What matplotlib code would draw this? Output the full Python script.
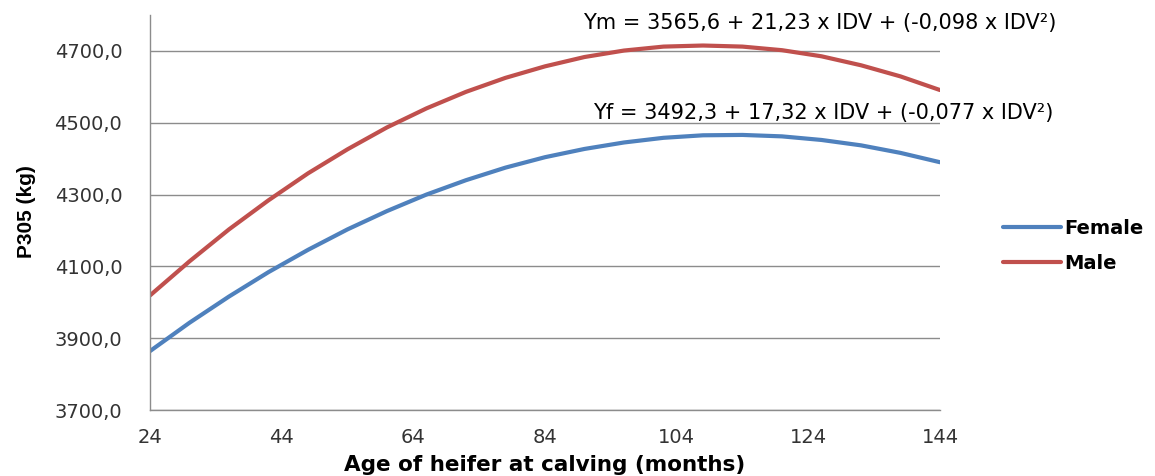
import matplotlib.pyplot as plt

# Age of heifer at calving (months)
age = [24, 30, 36, 42, 48, 54, 60, 66, 72, 78, 84, 90, 96, 102, 108, 114, 120, 126, 132, 138, 144]

# P305 (kg)
female = [3864, 3943, 4016, 4084, 4146, 4203, 4254, 4300, 4340, 4375, 4404,
          4427, 4445, 4458, 4465, 4466, 4462, 4452, 4437, 4416, 4390]
male = [4019, 4114, 4203, 4284, 4359, 4426, 4487, 4540, 4586, 4625, 4657,
        4683, 4701, 4712, 4715, 4712, 4702, 4685, 4660, 4629, 4591]

x_ticks = [24, 44, 64, 84, 104, 124, 144]
y_ticks = [3700, 3900, 4100, 4300, 4500, 4700]

eq_male = "Ym = 3565,6 + 21,23 x IDV + (-0,098 x IDV²)"
eq_female = "Yf = 3492,3 + 17,32 x IDV + (-0,077 x IDV²)"

blue = "#4F81BD"
red = "#C0504D"

fig = plt.figure(figsize=(11.55, 4.76), dpi=100)
ax = fig.add_axes([150 / 1155, 66 / 476, 790 / 1155, 395 / 476])

ax.plot(age, female, color=blue, linewidth=3, label="Female", solid_capstyle="round")
ax.plot(age, male, color=red, linewidth=3, label="Male", solid_capstyle="round")

ax.set_xlim(24, 144)
ax.set_ylim(3700, 4800)
ax.set_xticks(x_ticks)
ax.set_yticks(y_ticks)
ax.set_yticklabels([f"{v:.1f}".replace(".", ",") for v in y_ticks])
ax.tick_params(axis="both", length=0, labelsize=14, colors="#333333")
ax.tick_params(axis="x", pad=13)
ax.tick_params(axis="y", pad=20)

ax.grid(axis="y", color="#8c8c8c", linewidth=1)
ax.set_axisbelow(True)
for side in ["top", "right"]:
    ax.spines[side].set_visible(False)
for side in ["left", "bottom"]:
    ax.spines[side].set_color("#8c8c8c")
    ax.spines[side].set_linewidth(1)

fig.text(545 / 1155, 1 - 465 / 476, "Age of heifer at calving (months)",
         ha="center", va="center", fontsize=15.5, fontweight="bold")
fig.text(27 / 1155, 1 - 212 / 476, "P305 (kg)", rotation=90,
         ha="center", va="center", fontsize=15, fontweight="bold",
         family="Liberation Sans")

fig.text(820 / 1155, 1 - 23 / 476, eq_male, ha="center", va="center", fontsize=15)
fig.text(823 / 1155, 1 - 113 / 476, eq_female, ha="center", va="center", fontsize=15)

ax.legend(loc="center left", bbox_to_anchor=(985 / 1155, 1 - 246 / 476),
          bbox_transform=fig.transFigure, frameon=False, handlelength=3.0,
          handletextpad=0.2, labelspacing=0.85,
          prop={"size": 14, "weight": "bold"})

fig.savefig("out.png", dpi=100)
